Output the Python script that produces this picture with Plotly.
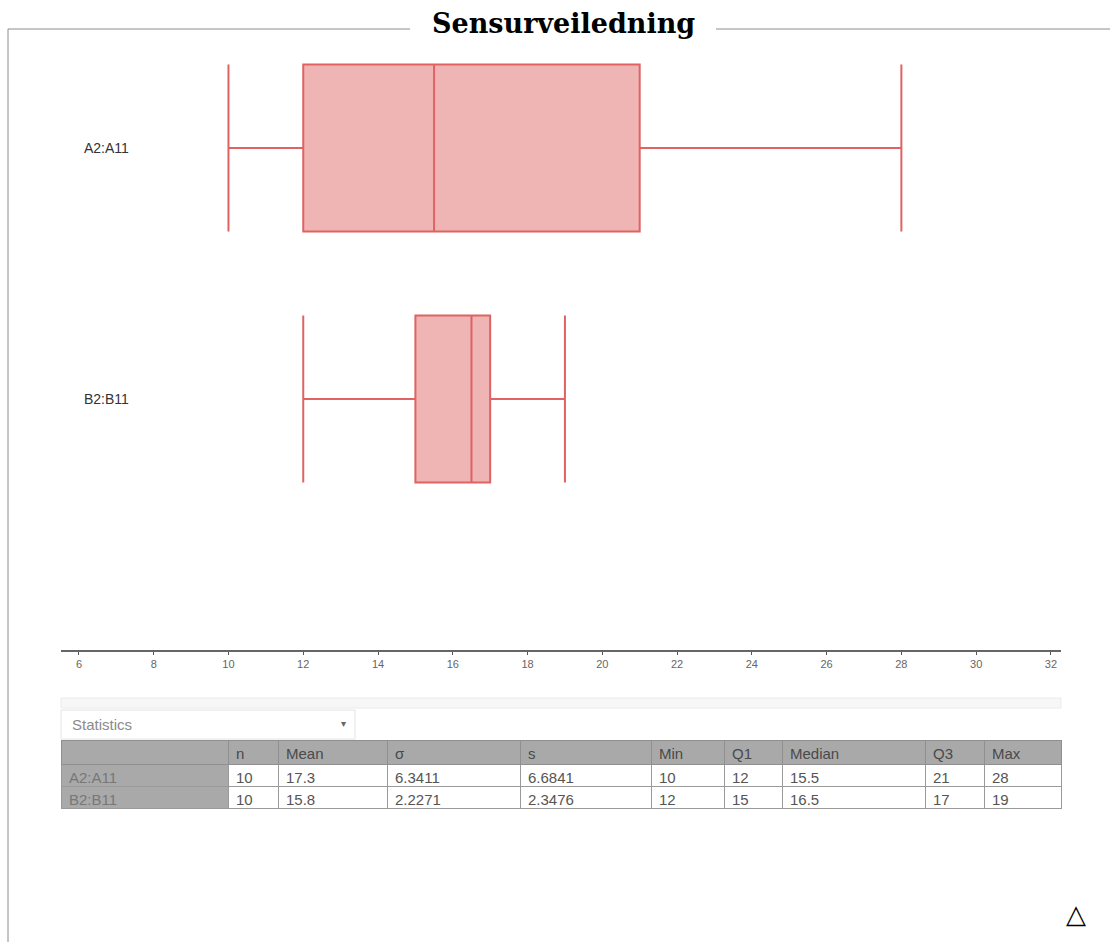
import plotly.graph_objects as go

W, H = 1110, 942

# Data ranges and summary statistics
ranges = ["A2:A11", "B2:B11"]
n_vals = [10, 10]
mean_vals = [17.3, 15.8]
sigma_vals = [6.3411, 2.2271]
s_vals = [6.6841, 2.3476]
min_vals = [10, 12]
q1_vals = [12, 15]
median_vals = [15.5, 16.5]
q3_vals = [21, 17]
max_vals = [28, 19]

stat_headers = ["", "n", "Mean", "σ", "s", "Min", "Q1", "Median", "Q3", "Max"]
x_ticks = list(range(6, 33, 2))

# row positions on the y axis (first range on top)
row_pos = [1, 0]


def px_x(p):
    return p / W


def px_y(p):
    return 1 - p / H


LINE = "rgb(224,98,98)"
FILL = "rgb(239,180,180)"
SANS = "Liberation Sans, Arial"

fig = go.Figure()

for i, name in enumerate(ranges):
    fig.add_trace(go.Box(
        orientation="h",
        y=[row_pos[i]],
        q1=[q1_vals[i]], median=[median_vals[i]], q3=[q3_vals[i]],
        lowerfence=[min_vals[i]], upperfence=[max_vals[i]],
        width=0.665, whiskerwidth=1,
        line=dict(color=LINE, width=2),
        fillcolor=FILL,
        boxpoints=False,
        name=name, showlegend=False, hoverinfo="skip",
        xaxis="x", yaxis="y",
    ))

# row labels inside the plot area
for i, name in enumerate(ranges):
    fig.add_annotation(x=6.07, y=row_pos[i], xref="x", yref="y", text=name,
                       showarrow=False, xanchor="left", yanchor="middle",
                       font=dict(family=SANS, size=14, color="#333"))

# statistics table
cols = [ranges, n_vals, mean_vals, sigma_vals, s_vals, min_vals, q1_vals,
        median_vals, q3_vals, max_vals]
cols = [[str(v) for v in c] for c in cols]
n_rows = len(ranges)
col_fill = ["#a9a9a9"] + ["white"] * 9
col_font = ["#777777"] + ["#555555"] * 9
fig.add_trace(go.Table(
    domain=dict(x=[px_x(61), px_x(1061)], y=[px_y(830), px_y(740)]),
    columnwidth=[167, 50, 109, 133, 131, 73, 58, 143, 59, 77],
    header=dict(values=stat_headers, fill_color="#a9a9a9", align="left",
                line=dict(color="#8f8f8f", width=1), height=24,
                font=dict(family=SANS, size=15, color="#4a4a4a")),
    cells=dict(values=cols,
               fill_color=[[c] * n_rows for c in col_fill],
               align="left",
               line=dict(color="#9a9a9a", width=1), height=22,
               font=dict(family=SANS, size=15,
                         color=[[c] * n_rows for c in col_font])),
))

shapes = [
    # frame around the page
    dict(type="line", xref="paper", yref="paper", x0=px_x(8), x1=px_x(410),
         y0=px_y(29), y1=px_y(29), line=dict(color="#8c8c8c", width=1)),
    dict(type="line", xref="paper", yref="paper", x0=px_x(716), x1=1,
         y0=px_y(29), y1=px_y(29), line=dict(color="#8c8c8c", width=1)),
    dict(type="line", xref="paper", yref="paper", x0=px_x(8), x1=px_x(8),
         y0=px_y(29), y1=0, line=dict(color="#8c8c8c", width=1)),
    # light separator band above the statistics panel
    dict(type="rect", xref="paper", yref="paper", x0=px_x(61), x1=px_x(1061),
         y0=px_y(708), y1=px_y(698), fillcolor="#f7f7f7",
         line=dict(color="#ebebeb", width=1)),
    # dropdown box
    dict(type="rect", xref="paper", yref="paper", x0=px_x(61), x1=px_x(355),
         y0=px_y(739), y1=px_y(710), fillcolor="white",
         line=dict(color="#e4e4e4", width=1)),
]
fig.update_layout(shapes=shapes)

notes = [
    dict(x=px_x(563), y=px_y(24), text="<b>Sensurveiledning</b>", xanchor="center",
         font=dict(family="DejaVu Serif", size=27, color="black")),
    dict(x=px_x(70), y=px_y(724), text="Statistics", xanchor="left",
         font=dict(family=SANS, size=15, color="#8a8a8a")),
    dict(x=px_x(343), y=px_y(723), text="▾", xanchor="center",
         font=dict(family="DejaVu Sans", size=10, color="#666")),
    dict(x=px_x(1076), y=px_y(914), text="△", xanchor="center",
         font=dict(family="DejaVu Sans", size=26, color="black")),
]
for a in notes:
    fig.add_annotation(xref="paper", yref="paper", yanchor="middle",
                       showarrow=False, **a)

fig.update_layout(
    width=W, height=H,
    margin=dict(l=0, r=0, t=0, b=0),
    paper_bgcolor="white", plot_bgcolor="white",
    xaxis=dict(domain=[px_x(61), px_x(1061)], range=[5.52, 32.27],
               tickvals=x_ticks, ticks="outside", ticklen=3, tickcolor="#555",
               showline=True, linecolor="#666", linewidth=2, showgrid=False,
               zeroline=False, anchor="y",
               tickfont=dict(family=SANS, size=11, color="#666")),
    yaxis=dict(domain=[px_y(650), px_y(30)], range=[-1.0, 1.47],
               showticklabels=False, showgrid=False, zeroline=False,
               showline=False, ticks=""),
)

fig.write_html("out.html")
